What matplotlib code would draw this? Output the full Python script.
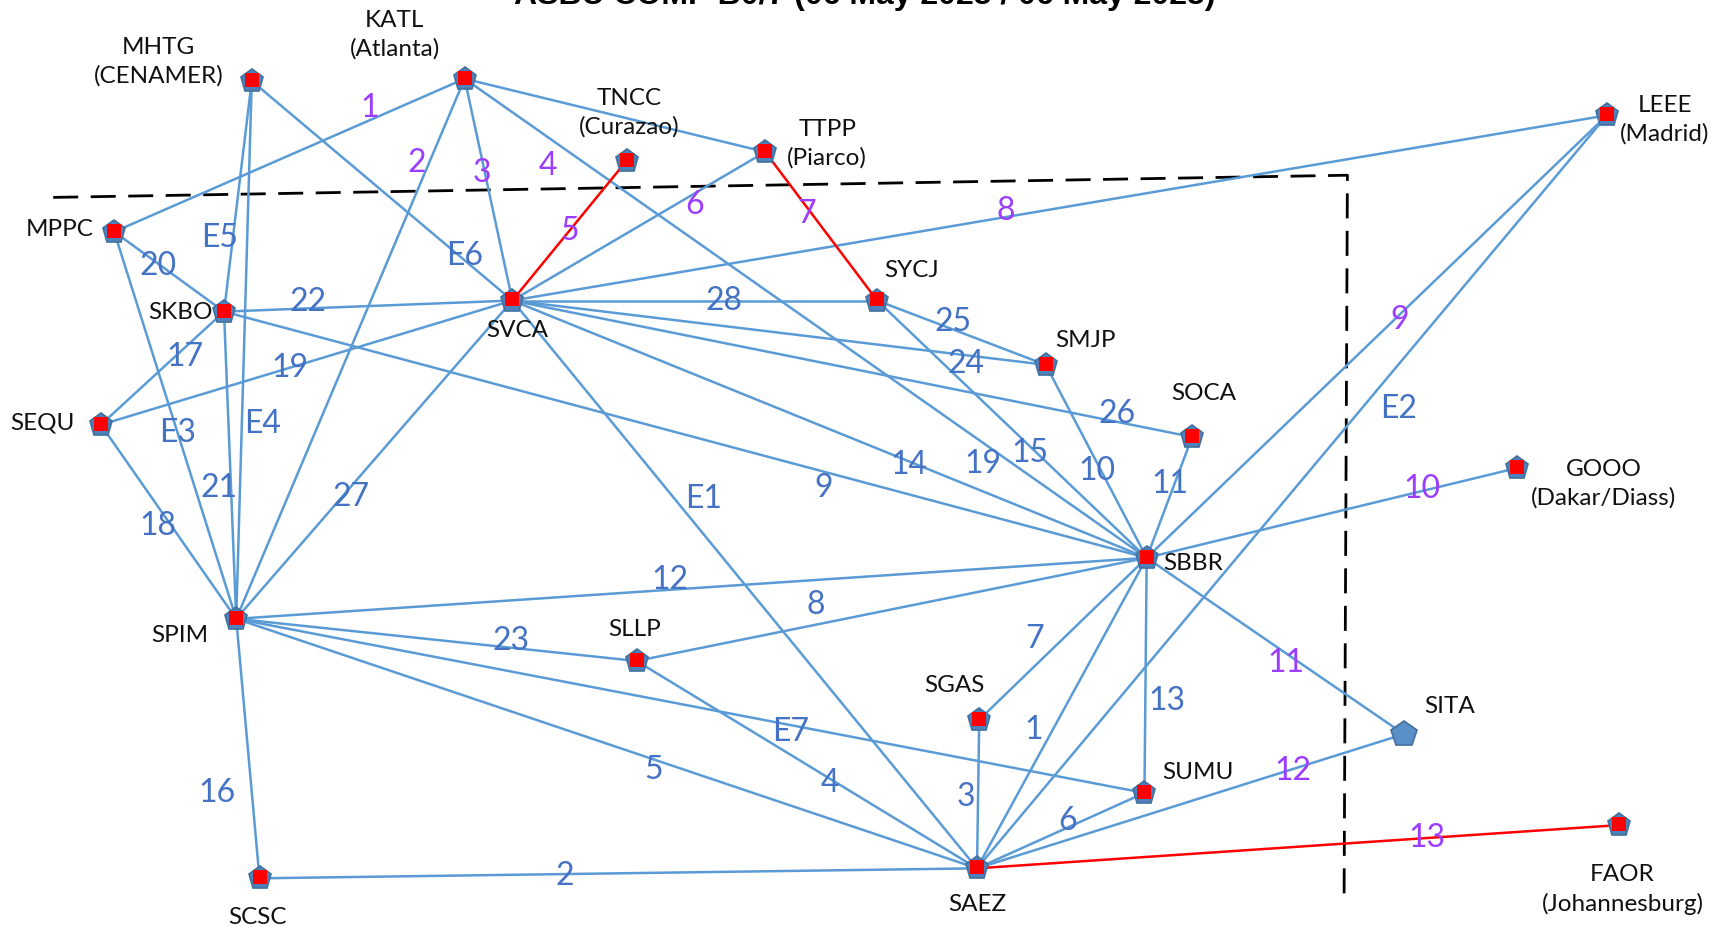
import matplotlib
matplotlib.use("Agg")
import matplotlib.pyplot as plt

# network nodes (layout in picture units, y grows downward)
node_names = ["MHTG", "KATL", "TNCC", "TTPP", "LEEE", "MPPC", "SKBO", "SVCA",
              "SYCJ", "SMJP", "SOCA", "SEQU", "GOOO", "SBBR", "SPIM", "SLLP",
              "SGAS", "SITA", "SUMU", "FAOR", "SCSC", "SAEZ"]
node_x = [227, 419, 565, 690, 1449, 103, 202, 462, 791, 943, 1075, 91, 1368,
          1034, 213, 574, 883, 1266, 1032, 1460, 234, 881]
node_y = [73, 71, 145, 137, 104, 209, 281, 271, 271, 329, 394, 383, 422, 503,
          558, 596, 649, 662, 715, 744, 792, 783]
node_text = ["MHTG\n(CENAMER)", "KATL\n(Atlanta)", "TNCC\n(Curazao)",
             "TTPP\n(Piarco)", "LEEE\n(Madrid)", "MPPC", "SKBO", "SVCA", "SYCJ",
             "SMJP", "SOCA", "SEQU", "GOOO\n(Dakar/Diass)", "SBBR", "SPIM",
             "SLLP", "SGAS", "SITA", "SUMU", "FAOR\n(Johannesburg)", "SCSC",
             "SAEZ"]
no_red = ["SITA"]

# links between nodes
link_a = ["KATL", "KATL", "KATL", "KATL", "KATL", "TNCC", "TTPP", "TTPP", "LEEE",
          "LEEE", "LEEE", "GOOO", "SBBR", "SAEZ", "SAEZ", "MHTG", "MHTG", "MHTG",
          "MPPC", "MPPC", "SKBO", "SKBO", "SEQU", "SEQU", "SKBO", "SPIM", "SKBO",
          "SVCA", "SYCJ", "SVCA", "SVCA", "SVCA", "SYCJ", "SMJP", "SOCA", "SPIM",
          "SPIM", "SPIM", "SPIM", "SPIM", "SCSC", "SLLP", "SLLP", "SVCA", "SGAS",
          "SGAS", "SBBR", "SBBR", "SUMU"]
link_b = ["MPPC", "SPIM", "SVCA", "SBBR", "TTPP", "SVCA", "SVCA", "SYCJ", "SVCA",
          "SBBR", "SAEZ", "SBBR", "SITA", "SITA", "FAOR", "SKBO", "SVCA", "SPIM",
          "SPIM", "SKBO", "SVCA", "SEQU", "SVCA", "SPIM", "SPIM", "SVCA", "SBBR",
          "SBBR", "SBBR", "SYCJ", "SMJP", "SOCA", "SMJP", "SBBR", "SBBR", "SBBR",
          "SLLP", "SUMU", "SAEZ", "SCSC", "SAEZ", "SBBR", "SAEZ", "SAEZ", "SBBR",
          "SAEZ", "SAEZ", "SUMU", "SAEZ"]
red_links = [("TNCC", "SVCA"), ("TTPP", "SYCJ"), ("SAEZ", "FAOR")]

# link numbers: (link, text, group)
lbl_link = [("KATL", "MPPC"), ("KATL", "SPIM"), ("KATL", "SVCA"), ("KATL", "SBBR"),
            ("TNCC", "SVCA"), ("TTPP", "SVCA"), ("TTPP", "SYCJ"), ("LEEE", "SVCA"),
            ("LEEE", "SBBR"), ("GOOO", "SBBR"), ("SBBR", "SITA"), ("SAEZ", "SITA"),
            ("SAEZ", "FAOR"),
            ("LEEE", "SAEZ"), ("MHTG", "SKBO"), ("MHTG", "SVCA"), ("MHTG", "SPIM"),
            ("MPPC", "SPIM"), ("MPPC", "SKBO"), ("SKBO", "SVCA"), ("SKBO", "SEQU"),
            ("SEQU", "SVCA"), ("SEQU", "SPIM"), ("SKBO", "SPIM"), ("SPIM", "SVCA"),
            ("SKBO", "SBBR"), ("SVCA", "SBBR"), ("KATL", "SBBR"), ("SYCJ", "SBBR"),
            ("SVCA", "SYCJ"), ("SVCA", "SMJP"), ("SVCA", "SOCA"), ("SYCJ", "SMJP"),
            ("SMJP", "SBBR"), ("SOCA", "SBBR"), ("SPIM", "SBBR"), ("SPIM", "SLLP"),
            ("SPIM", "SUMU"), ("SPIM", "SAEZ"), ("SPIM", "SCSC"), ("SCSC", "SAEZ"),
            ("SLLP", "SBBR"), ("SLLP", "SAEZ"), ("SVCA", "SAEZ"), ("SGAS", "SBBR"),
            ("SGAS", "SAEZ"), ("SBBR", "SAEZ"), ("SBBR", "SUMU"), ("SUMU", "SAEZ")]
lbl_text = ["1", "2", "3", "4", "5", "6", "7", "8", "9", "10", "11", "12", "13",
            "E2", "E5", "E6", "E4", "E3", "20", "22", "17", "19", "18", "21", "27",
            "9", "14", "19", "15", "28", "24", "26", "25", "10", "11", "12", "23",
            "E7", "5", "16", "2", "8", "4", "E1", "7", "3", "1", "13", "6"]
lbl_inter = [True] * 13 + [False] * 36

# placement of the numbers along each link: fraction, x shift, y shift
lbl_place = [(0.27, 0, -11), (0.156, -11, 0), (0.425, -3, 0), (0.122, 0, 26),
             (0.5, 0, 0), (0.28, 0, 10), (0.418, -5, 0), (0.549, 0, -5),
             (0.45, 0, 5), (0.257, 0, -2), (0.54, 0, 9), (0.74, 0, 2),
             (0.70, 0, 0),
             (0.39, 34, 0), (0.68, -12, 0), (0.817, 0, -4), (0.637, 19, 0),
             (0.52, 0, 0), (0.40, 0, 2), (0.29, 0, -6), (0.32, 0, 8),
             (0.46, 0, 0), (0.52, -12, 0), (0.574, -11, 0), (0.383, 8, 0),
             (0.65, 0, 15), (0.625, 0, 3), (0.76, 0, 19), (0.60, -8, -2),
             (0.58, 0, 0), (0.85, 0, 8), (0.89, 0, -7), (0.45, 0, -7),
             (0.55, -4, 0), (0.39, -4, 0), (0.476, 0, -9), (0.687, 0, -6),
             (0.61, 0, 6), (0.564, 0, 9), (0.67, -31, 0), (0.425, 0, 2),
             (0.352, 0, -18), (0.567, 0, 4), (0.35, 26, 0), (0.5, -26, 0),
             (0.52, -11, 0), (0.554, -17, 0), (0.61, 19, 0), (0.457, 0, -6)]

# node label offsets and alignment
name_place = {
    "MHTG": (-84, -17, "center"), "KATL": (-63, -40, "center"),
    "TNCC": (2, -43, "center"), "TTPP": (56, -7, "center"),
    "LEEE": (52, 4, "center"), "MPPC": (-19, -2, "right"),
    "SKBO": (-39, 1, "center"), "SVCA": (4, 27, "center"),
    "SYCJ": (31, -27, "center"), "SMJP": (36, -22, "center"),
    "SOCA": (10, -39, "center"), "SEQU": (-53, -2, "center"),
    "GOOO": (78, 14, "center"), "SBBR": (42, 5, "center"),
    "SPIM": (-51, 15, "center"), "SLLP": (-2, -28, "center"),
    "SGAS": (-22, -31, "center"), "SITA": (41, -25, "center"),
    "SUMU": (48, -18, "center"), "FAOR": (3, 58, "center"),
    "SCSC": (-2, 35, "center"), "SAEZ": (0, 33, "center"),
}

W, H = 1560, 835
EDGE_BLUE = "#5b9bd5"
LBL_BLUE = "#4472c4"
LBL_PURPLE = "#9b3cff"

pos = {n: (x, y) for n, x, y in zip(node_names, node_x, node_y)}

fig = plt.figure(figsize=(17.3, 9.26), dpi=100)
ax = fig.add_axes([0, 0, 1, 1])
ax.set_xlim(0, W)
ax.set_ylim(H, 0)
ax.axis("off")

# region boundary
ax.plot([48, 1215, 1212], [178, 158, 810], color="black", lw=2.0,
        dashes=(9, 4.5), zorder=1)

for a, b in zip(link_a, link_b):
    (x1, y1), (x2, y2) = pos[a], pos[b]
    red = (a, b) in red_links
    ax.plot([x1, x2], [y1, y2], color="#ff0000" if red else EDGE_BLUE,
            lw=1.8, zorder=3 if red else 2, solid_capstyle="round")

for (a, b), txt, inter, (t, dx, dy) in zip(lbl_link, lbl_text, lbl_inter, lbl_place):
    (x1, y1), (x2, y2) = pos[a], pos[b]
    lx = x1 + t * (x2 - x1) + dx
    ly = y1 + t * (y2 - y1) + dy
    ax.text(lx, ly, txt, color=LBL_PURPLE if inter else LBL_BLUE,
            fontsize=23, family="Lato", ha="center", va="center", zorder=5)

for n, txt in zip(node_names, node_text):
    x, y = pos[n]
    if n in no_red:
        ax.plot(x, y, marker="p", ms=19, color="#5b8fc9", mec="#41719c",
                mew=1.2, zorder=6)
    else:
        ax.plot(x, y, marker="p", ms=17, color="#4f81bd", mec="#41719c",
                mew=1.2, zorder=6)
        ax.plot(x, y - 1, marker="s", ms=10, color="#ff0000", mew=0, zorder=7)
    dx, dy, ha = name_place[n]
    ax.text(x + dx, y + dy, txt, fontsize=17.5, family="Lato", color="#111111",
            ha=ha, va="center", multialignment="center", linespacing=1.4,
            zorder=8)

# title, cut off at the top of the picture
ax.text(780, 4, "ASBU COMP B0/7 (06 May 2025 / 06 May 2025)", fontsize=23,
        fontweight="bold", family="Liberation Sans", ha="center",
        va="baseline", color="black")

fig.savefig("out.png", dpi=100)
